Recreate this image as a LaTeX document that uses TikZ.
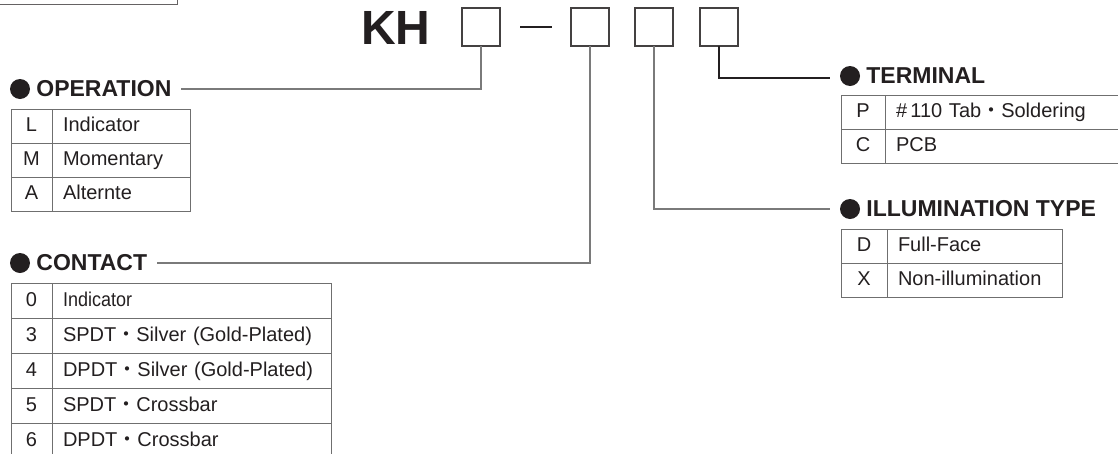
\documentclass[tikz,border=0pt]{standalone}
\usepackage{fontspec}
\setmainfont{Liberation Sans}
\newfontfamily\cjk{Noto Sans CJK JP}
\usepackage{graphicx}
\usepackage{tikz}
\usetikzlibrary{positioning}

\definecolor{ink}{HTML}{231F20}
\definecolor{rule}{HTML}{6F6F6F}
\definecolor{wire}{HTML}{7A7A7A}
\newcommand{\kdot}{{\cjk ・}}

\begin{document}
\begin{tikzpicture}[x=1pt, y=-1pt,
  font=\fontsize{20}{24}\selectfont, text=ink,
  slot/.style={draw=ink!85, line width=1.1pt, minimum size=38pt, inner sep=0pt, outer sep=0pt},
  blob/.style={circle, fill=ink, minimum size=20pt, inner sep=0pt},
  title/.style={font=\fontsize{23}{27}\selectfont\bfseries, inner sep=0pt},
  key/.style={draw=rule, line width=1pt, minimum width=41pt, minimum height=34pt,
    inner sep=0pt, outer sep=0pt, text height=15pt, text depth=4pt},
  desc/.style={draw=rule, line width=1pt, minimum height=34pt, text width=#1,
    inner xsep=11pt, inner ysep=0pt, outer sep=0pt, align=left, text height=15pt, text depth=4pt},
  wire/.style={draw=wire, line width=1.1pt}
]
\useasboundingbox (0,0) rectangle (1118,453);

% part number
\node[draw=ink!70, line width=1pt, minimum width=200pt, minimum height=40pt, anchor=south east] (tag) at (178,5) {};
\node[font=\fontsize{48}{50}\selectfont\bfseries] (kh) at (396,28) {KH};
\node[slot] (s1) at (481,27) {};
\node[inner sep=0pt] (dash) at (536,27) {\rule{32pt}{1.6pt}};
\node[slot] (s2) at (590,27) {};
\node[slot] (s3) at (654,27) {};
\node[slot] (s4) at (719,27) {};

% operation
\node[blob] (opB) at (20,89) {};
\node[title, right=6pt of opB] (opT) {OPERATION};
\node[key, anchor=north west] (opL) at (11,109) {L};
\node[desc=116pt, right=0pt of opL] (opLd) {Indicator};
\node[key, below=0pt of opL] (opM) {M};
\node[desc=116pt, right=0pt of opM] (opMd) {Momentary};
\node[key, below=0pt of opM] (opA) {A};
\node[desc=116pt, right=0pt of opA] (opAd) {Alternte};

% contact
\node[blob] (ctB) at (20,263) {};
\node[title, right=6pt of ctB] (ctT) {CONTACT};
\node[key, minimum height=35pt, anchor=north west] (ct0) at (11,283) {0};
\node[desc=257pt, minimum height=35pt, right=0pt of ct0] (ct0d) {\scalebox{0.9}[1]{Indicator}};
\node[key, minimum height=35pt, below=0pt of ct0] (ct3) {3};
\node[desc=257pt, minimum height=35pt, right=0pt of ct3] (ct3d) {SPDT\kdot Silver (Gold-Plated)};
\node[key, minimum height=35pt, below=0pt of ct3] (ct4) {4};
\node[desc=257pt, minimum height=35pt, right=0pt of ct4] (ct4d) {DPDT\kdot Silver (Gold-Plated)};
\node[key, minimum height=35pt, below=0pt of ct4] (ct5) {5};
\node[desc=257pt, minimum height=35pt, right=0pt of ct5] (ct5d) {SPDT\kdot Crossbar};
\node[key, minimum height=35pt, below=0pt of ct5] (ct6) {6};
\node[desc=257pt, minimum height=35pt, right=0pt of ct6] (ct6d) {DPDT\kdot Crossbar};

% terminal
\node[blob] (tmB) at (850,76) {};
\node[title, right=6pt of tmB] (tmT) {TERMINAL};
\node[key, minimum width=44pt, anchor=north west] (tmP) at (841,95) {P};
\node[desc=230pt, right=0pt of tmP] (tmPd) {\#\,110 Tab\kdot Soldering};
\node[key, minimum width=44pt, below=0pt of tmP] (tmC) {C};
\node[desc=230pt, right=0pt of tmC] (tmCd) {PCB};

% illumination type
\node[blob] (ilB) at (850,209) {};
\node[title, right=6pt of ilB] (ilT) {ILLUMINATION TYPE};
\node[key, minimum width=46pt, anchor=north west] (ilD) at (841,229) {D};
\node[desc=153pt, right=0pt of ilD] (ilDd) {Full-Face};
\node[key, minimum width=46pt, below=0pt of ilD] (ilX) {X};
\node[desc=153pt, right=0pt of ilX] (ilXd) {Non-illumination};

% leaders
\draw[wire] (s1) |- ([xshift=9pt]opT.east);
\draw[wire] (s2) |- ([xshift=10pt]ctT.east);
\draw[wire] (s3) |- ([xshift=-10pt]ilB.west);
\draw[wire, draw=ink] (s4) |- ([xshift=-10pt,yshift=-2pt]tmB.west);
\end{tikzpicture}
\end{document}
